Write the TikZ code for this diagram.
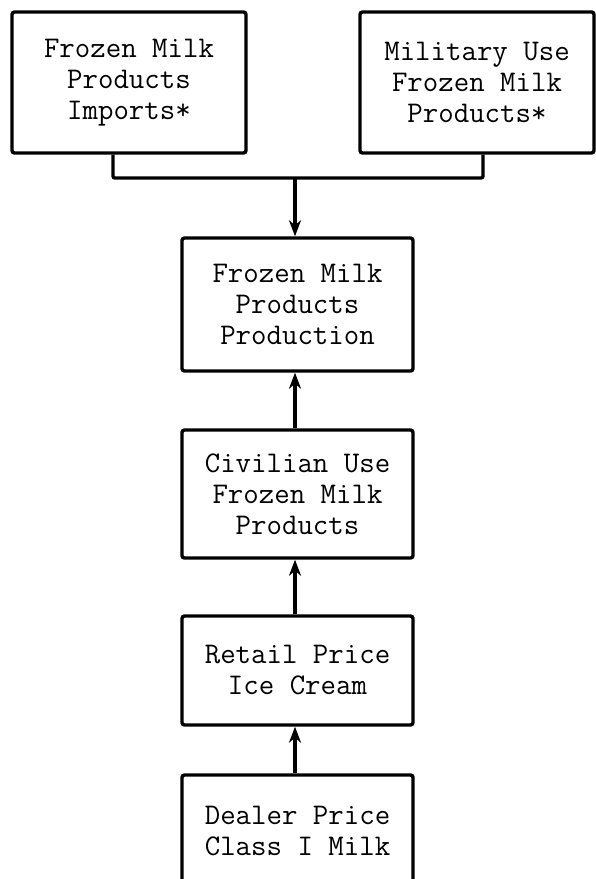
\documentclass[tikz,border=0pt]{standalone}
\usepackage{fontspec}
\usetikzlibrary{arrows.meta}
\begin{document}
\begin{tikzpicture}[x=1pt,y=-1pt,
  boxnode/.style={draw, line width=3.4pt, rounded corners=2.5pt, inner sep=0pt,
    align=center, font=\ttfamily\fontsize{30}{31}\selectfont},
  link/.style={line width=3.4pt},
  arr/.style={line width=3.4pt, -{Stealth[length=16pt,width=12pt,inset=5pt]}}]
\useasboundingbox (0,0) rectangle (596,879);
\clip (0,0) rectangle (596,879);
\fill[white] (0,0) rectangle (596,879);
\node[boxnode, minimum width=234pt, minimum height=141pt] (imp) at (129,82.5)
  {Frozen Milk\\Products\\Imports*};
\node[boxnode, minimum width=234pt, minimum height=141pt] (mil) at (477,82.5)
  {Military Use\\Frozen Milk\\Products*};
\node[boxnode, minimum width=231pt, minimum height=133pt] (prod) at (297.5,304.5)
  {Frozen Milk\\Products\\Production};
\node[boxnode, minimum width=231pt, minimum height=128pt] (civ) at (297.5,494)
  {Civilian Use\\Frozen Milk\\Products};
\node[boxnode, minimum width=231pt, minimum height=109pt] (ret) at (297.5,670.5)
  {Retail Price\\Ice Cream};
\node[boxnode, minimum width=231pt, minimum height=112pt] (dea) at (297.5,831)
  {Dealer Price\\Class I Milk};
\coordinate (join) at (295,178);
\draw[link, rounded corners=2pt] ([xshift=-16pt]imp.south) |- (join) -| ([xshift=6pt]mil.south);
\draw[arr] (join) -- (join |- prod.north);
\draw[arr] (dea.north -| 295,0) -- (ret.south -| 295,0);
\draw[arr] (ret.north -| 295,0) -- (civ.south -| 295,0);
\draw[arr] (civ.north -| 295,0) -- (prod.south -| 295,0);
\end{tikzpicture}
\end{document}
